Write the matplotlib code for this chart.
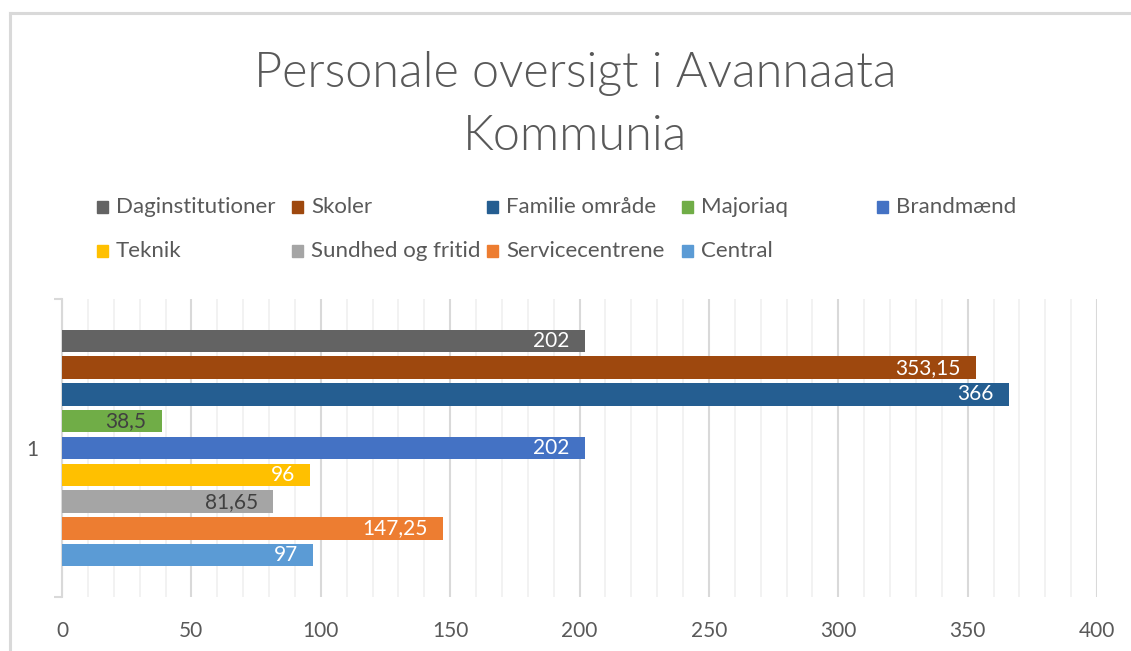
import matplotlib

matplotlib.use("Agg")
import matplotlib.pyplot as plt
from matplotlib import font_manager
from matplotlib.lines import Line2D
from matplotlib.patches import Rectangle
from matplotlib.ticker import MultipleLocator

categories = [
    "Daginstitutioner",
    "Skoler",
    "Familie område",
    "Majoriaq",
    "Brandmænd",
    "Teknik",
    "Sundhed og fritid",
    "Servicecentrene",
    "Central",
]
values = [202, 353.15, 366, 38.5, 202, 96, 81.65, 147.25, 97]
value_labels = ["202", "353,15", "366", "38,5", "202", "96", "81,65", "147,25", "97"]
colors = [
    "#636363", "#9E480E", "#255E91", "#70AD47", "#4472C4",
    "#FFC000", "#A5A5A5", "#ED7D31", "#5B9BD5",
]
label_colors = [
    "white", "white", "white", "#404040", "white",
    "white", "#404040", "white", "white",
]
x_ticks = [0, 50, 100, 150, 200, 250, 300, 350, 400]
group_label = "1"
title = "Personale oversigt i Avannaata\nKommunia"

installed = {f.name for f in font_manager.fontManager.ttflist}
FONT = "Liberation Sans Narrow" if "Liberation Sans Narrow" in installed else "Lato"
plt.rcParams["font.family"] = [FONT, "DejaVu Sans"]

TXT = "#595959"
W, H = 1131, 651
fig = plt.figure(figsize=(W / 100, H / 100), dpi=100)

# chart frame (gray border at top/left)
fig.add_artist(Line2D([10 / W, 10 / W], [0, 1 - 13 / H], color="#d9d9d9", lw=2.2))
fig.add_artist(Line2D([10 / W, 1], [1 - 13 / H, 1 - 13 / H], color="#d9d9d9", lw=2.2))

ax = fig.add_axes([62 / W, (H - 597) / H, 1035 / W, 298 / H])

ypos = list(range(len(categories)))
ax.barh(ypos, values, height=0.84, color=colors, zorder=3)
for y, v, lab, c in zip(ypos, values, value_labels, label_colors):
    ax.annotate(lab, (v, y), xytext=(-15, 0), textcoords="offset pixels",
                ha="right", va="center", color=c, fontsize=15, zorder=4)

ax.set_xlim(0, 400)
ax.set_ylim(9.56, -1.56)
ax.xaxis.set_minor_locator(MultipleLocator(10))
ax.set_xticks(x_ticks)
ax.grid(axis="x", which="major", color="#d9d9d9", lw=1.5, zorder=0)
ax.grid(axis="x", which="minor", color="#f0f0f0", lw=1.2, zorder=0)
ax.tick_params(axis="x", which="both", length=0, labelsize=15, labelcolor=TXT, pad=17)

ax.set_yticks([4], labels=[group_label])
ax.set_yticks([-1.56, 9.56], minor=True)
ax.tick_params(axis="y", which="major", length=0, labelsize=15, labelcolor=TXT, pad=17)
ax.tick_params(axis="y", which="minor", length=6, color="#d9d9d9", width=1.5)

for s in ["top", "right", "bottom"]:
    ax.spines[s].set_visible(False)
ax.spines["left"].set_color("#d9d9d9")
ax.spines["left"].set_linewidth(1.5)

fig.text(575 / W, 1 - 105 / H, title, ha="center", va="center",
         fontsize=35, fontweight=300, color=TXT, linespacing=1.5)

# legend laid out in fixed columns like the original
for i, (name, c) in enumerate(zip(categories, colors)):
    col, row = i % 5, i // 5
    x = (97 + col * 195) / W
    y = 1 - (207 + row * 44) / H
    fig.add_artist(Rectangle((x, y - 6 / H), 11 / W, 12 / H, color=c,
                             transform=fig.transFigure))
    fig.text(x + 19 / W, y, name, ha="left", va="center", fontsize=16, color=TXT)

fig.savefig("out.png", dpi=100)
